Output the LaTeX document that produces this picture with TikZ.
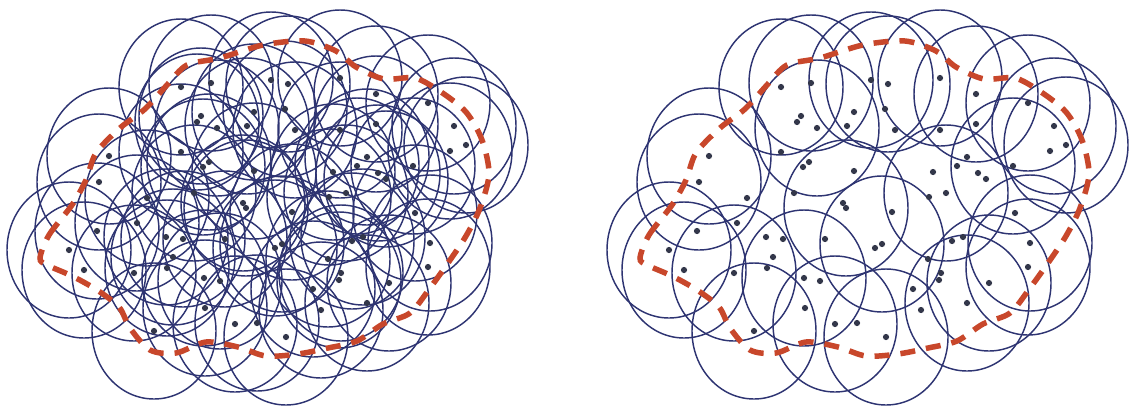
\documentclass[tikz,border=0pt]{standalone}
\definecolor{ringc}{HTML}{2E3472}
\definecolor{nodec}{HTML}{33374A}
\definecolor{hullc}{HTML}{C8472B}
\tikzset{
  ring/.style={draw=ringc, line width=1.45pt},
  sensor/.style={fill=nodec},
  hull/.style={draw=hullc, line width=5.5pt, dash pattern=on 15pt off 11pt}
}
\def\sensors{781/87, 811/83, 797/122, 801/116, 817/128, 871/80, 888/84, 854/112, 847/126, 885/109, 895/130, 940/78, 976/94, 976/124, 940/130, 1028/103, 1054/126, 1066/145, 1050/151, 1013/166, 967/157, 957/166, 978/173, 986/179, 933/172, 929/197, 946/193, 892/212, 854/171, 803/167, 809/162, 794/193, 781/152, 747/198, 709/156, 699/182, 737/223, 697/231, 669/250, 684/270, 766/237, 783/239, 773/257, 767/268, 734/273, 804/278, 820/281, 825/239, 843/203, 846/208, 875/248, 882/244, 805/308, 835/324, 857/323, 886/337, 754/331, 913/289, 941/273, 939/280, 928/259, 952/241, 963/237, 967/303, 921/310, 989/283, 1028/267, 1030/243, 1015/213}
\def\active{781/87, 811/83, 871/80, 888/84, 940/78, 976/94, 1028/103, 1054/126, 1066/145, 817/128, 846/208, 946/193, 1013/166, 882/244, 709/156, 699/182, 669/250, 684/270, 734/273, 754/331, 804/278, 835/324, 886/337, 967/303, 1028/267, 1030/243, 989/283}
\newcommand\hullpath{%
  \draw[hull] plot[smooth cycle, tension=0.5] coordinates {
    (640,258) (649,235) (672,205) (686,180) (696,153) (720,128) (745,109)
    (767,85) (787,65) (820,58) (863,45) (905,41) (936,51) (956,67) (984,79)
    (1015,78) (1041,92) (1066,112) (1082,140) (1089,174) (1080,208) (1066,236)
    (1048,263) (1030,288) (1010,313) (983,324) (957,341) (928,348) (898,354)
    (866,356) (838,347) (806,342) (776,353) (750,350) (730,328) (719,307)
    (697,290) (672,276) (647,265)};}
\begin{document}
\begin{tikzpicture}[x=1pt,y=-1pt]
\useasboundingbox (0,0) rectangle (1141,408);
\fill[white] (0,0) rectangle (1141,408);
% left panel: every sensor with its sensing disc
\begin{scope}[xshift=-600pt]
  \foreach \a/\b in \sensors {\draw[ring] (\a,\b) ellipse [x radius=62pt, y radius=68pt];}
  \foreach \a/\b in \sensors {\fill[sensor] (\a,\b) circle [radius=3.1pt];}
  \hullpath
\end{scope}
% right panel: only the active sensors keep their discs
\begin{scope}
  \foreach \a/\b in \active {\draw[ring] (\a,\b) ellipse [x radius=62pt, y radius=68pt];}
  \foreach \a/\b in \sensors {\fill[sensor] (\a,\b) circle [radius=3.1pt];}
  \hullpath
\end{scope}
\end{tikzpicture}
\end{document}
